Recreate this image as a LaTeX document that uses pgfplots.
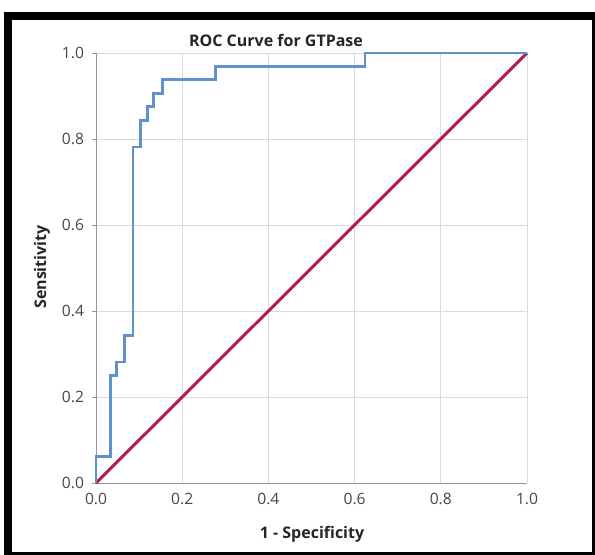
\documentclass[border=0pt]{standalone}
\usepackage{fontspec}
\setmainfont{Open Sans}
\usepackage{pgfplots}
\pgfplotsset{compat=1.18}

\definecolor{roccurve}{RGB}{95,145,207}
\definecolor{refline}{RGB}{178,28,76}
\definecolor{gridgrey}{RGB}{218,218,218}
\definecolor{axisgrey}{RGB}{150,150,150}
\definecolor{labelgrey}{RGB}{70,70,70}

\begin{document}
\begin{tikzpicture}
    % page is the size of the screenshot, 1 px = 0.5 pt
    \useasboundingbox (0,0) rectangle (297.5pt,277pt);
    \fill[white] (0,0) rectangle (297.5pt,277pt);
    % thick black frame, cut off at right and bottom
    \draw[line width=4pt] (4pt,269.25pt) rectangle (298pt,-1pt);

    \begin{axis}[
        at={(48pt,35.5pt)}, anchor=south west,
        scale only axis,
        width=215.5pt, height=215pt,
        xmin=0, xmax=1, ymin=0, ymax=1,
        xtick={0,0.2,...,1}, ytick={0,0.2,...,1},
        axis lines=left,
        axis line style={draw=axisgrey, line width=0.5pt, -},
        grid=major,
        major grid style={draw=gridgrey, line width=0.5pt},
        tick style={draw=axisgrey, line width=0.4pt},
        tick align=outside,
        major tick length=2pt,
        x tick style={draw=none},
        every tick label/.append style={font=\fontsize{7.8}{9}\selectfont, text=labelgrey},
        yticklabel style={xshift=-0.5pt},
        xticklabel style={yshift=0.5pt},
        /pgf/number format/assume math mode=true,
        /pgf/number format/.cd, fixed, fixed zerofill, precision=1,
        /tikz/.cd,
        clip=false
    ]
        % reference diagonal
        \addplot[refline, line width=1.5pt] coordinates {(0,0) (1,1)};

        % ROC curve
        \addplot[roccurve, line width=1.4pt, line join=miter] coordinates {
            (0,0) (0,0.0625)
            (0.034,0.0625) (0.034,0.25)
            (0.048,0.25) (0.048,0.28125)
            (0.067,0.28125) (0.067,0.34375)
            (0.086,0.34375) (0.086,0.78125)
            (0.104,0.78125) (0.104,0.84375)
            (0.119,0.84375) (0.119,0.875)
            (0.133,0.875) (0.133,0.90625)
            (0.155,0.90625) (0.155,0.9375)
            (0.278,0.9375) (0.278,0.96875)
            (0.624,0.96875) (0.624,1)
            (1,1)
        };
    \end{axis}

    % titles
    \node[font=\bfseries\fontsize{8}{9}\selectfont, text=black!85] at (138pt,257pt) {ROC Curve for GTPase};
    \node[font=\bfseries\fontsize{8}{9}\selectfont, text=black!85, rotate=90] at (21pt,143.5pt) {Sensitivity};
    \node[font=\bfseries\fontsize{8}{9}\selectfont, text=black!85] at (156pt,10pt) {1 - Specificity};
\end{tikzpicture}
\end{document}
